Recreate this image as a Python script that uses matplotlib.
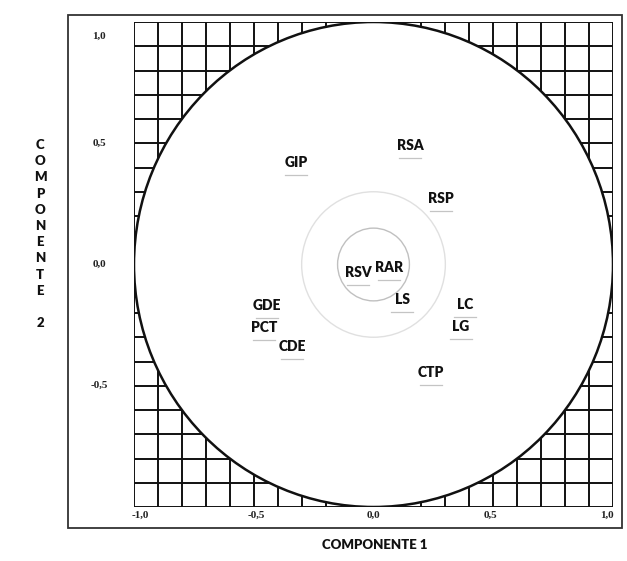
import numpy as np
import matplotlib
matplotlib.use("Agg")
import matplotlib.pyplot as plt
from matplotlib.patches import Circle, Rectangle
from matplotlib.transforms import offset_copy

# Data: variables on the correlation circle
labels = ["GIP", "RSA", "RSP", "RSV", "RAR", "LS", "LC", "LG", "CTP", "GDE", "PCT", "CDE"]
comp1 = [-0.324, 0.152, 0.282, -0.065, 0.065, 0.119, 0.382, 0.365, 0.240, -0.445, -0.457, -0.340]
comp2 = [0.419, 0.489, 0.274, -0.031, -0.014, -0.146, -0.167, -0.254, -0.447, -0.171, -0.258, -0.340]

xtick_vals = [-1.0, -0.5, 0.0, 0.5, 1.0]
xtick_text = ["-1,0", "-0,5", "0,0", "0,5", "1,0"]
ytick_vals = [0.94, 0.5, 0.0, -0.5]
ytick_text = ["1,0", "0,5", "0,0", "-0,5"]
inner_radii = [0.15, 0.30]

W, H = 627, 561
fig = plt.figure(figsize=(W / 100, H / 100), dpi=100)
fig.patch.set_facecolor("white")

# outer frame
frame = fig.add_axes([0, 0, 1, 1])
frame.set_xlim(0, W)
frame.set_ylim(H, 0)
frame.axis("off")
frame.add_patch(Rectangle((68, 15), 554, 513, fill=False, ec="#333333", lw=1.3))

# main axes: grid area 134..613 x 22..507 px
ax = fig.add_axes([134 / W, 1 - 507 / H, (613 - 134) / W, (507 - 22) / H])
ax.set_xlim(-1.0, 1.0)
ax.set_ylim(-1.0, 1.0)
ax.axis("off")

grid = np.round(np.arange(-1.0, 1.0001, 0.1), 2)
for g in grid:
    ax.plot([g, g], [-1, 1], color="#111111", lw=1.4, zorder=1, solid_capstyle="butt")
    ax.plot([-1, 1], [g, g], color="#111111", lw=1.4, zorder=1, solid_capstyle="butt")

ax.add_patch(Circle((0, 0), 1.0, fc="white", ec="#111111", lw=1.8, zorder=2))
ax.add_patch(Circle((0, 0), inner_radii[1], fc="none", ec="#e0e0e0", lw=1.0, zorder=3))
ax.add_patch(Circle((0, 0), inner_radii[0], fc="none", ec="#c0c0c0", lw=1.0, zorder=3))

lab_font = dict(family=["Lato", "DejaVu Sans"], fontweight="heavy", fontsize=10, color="#111111")
under_tr = offset_copy(ax.transData, fig=fig, x=0, y=-9, units="points")
for lab, x, y in zip(labels, comp1, comp2):
    ax.text(x, y, lab, ha="center", va="center", zorder=5, **lab_font)
    ax.plot([x - 0.045, x + 0.045], [y, y], color="#c4c4c4", lw=0.9,
            transform=under_tr, zorder=4)

tick_font = dict(family=["Liberation Serif", "DejaVu Serif"], fontweight="bold", fontsize=8, color="#222222")
for v, t in zip(xtick_vals, xtick_text):
    ax.text(v * 0.975, -1.015, t, ha="center", va="top", **tick_font)
for v, t in zip(ytick_vals, ytick_text):
    ax.text(-1.146, v, t, ha="center", va="center", **tick_font)

title_font = dict(family=["Lato", "DejaVu Sans"], fontweight="heavy", fontsize=9.5, color="#111111")
frame.text(375, 545, "COMPONENTE 1", ha="center", va="center", **title_font)
frame.text(40, 234, "C\nO\nM\nP\nO\nN\nE\nN\nT\nE\n\n2", ha="center", va="center",
           linespacing=1.42, **title_font)

fig.savefig("out.png", dpi=100, facecolor="white")
